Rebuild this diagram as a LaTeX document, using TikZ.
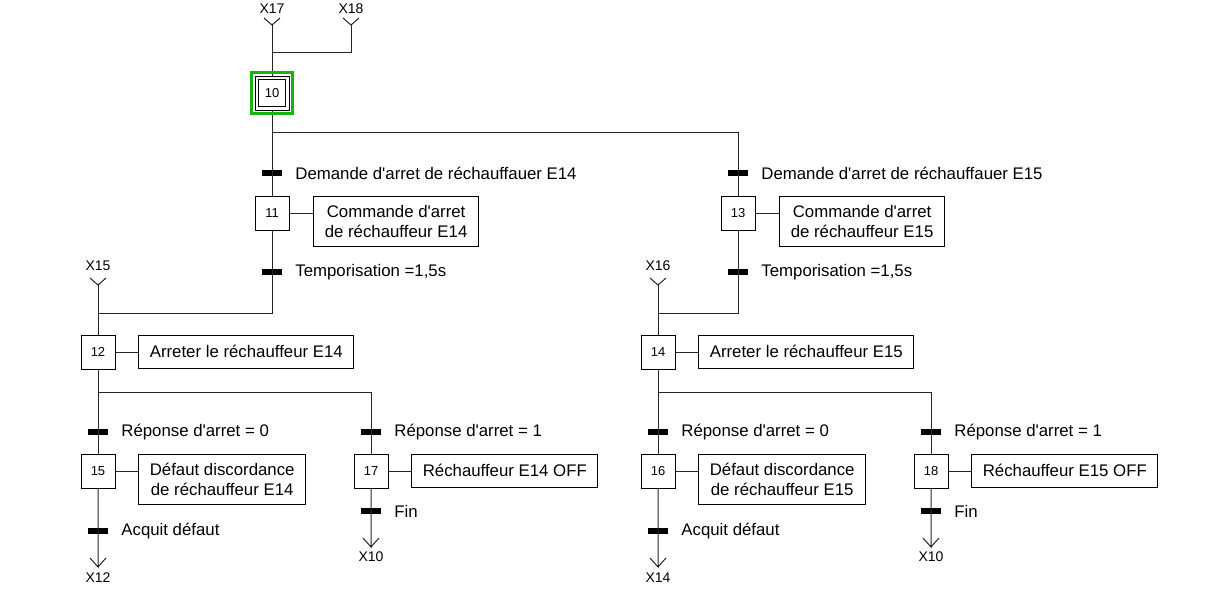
\documentclass[tikz,border=0pt]{standalone}
\usepackage{fontspec}
\setmainfont{Liberation Sans}
\usetikzlibrary{positioning}

\definecolor{vert}{RGB}{20,180,20}
\newcommand\apos{\textquotesingle}

\tikzset{
  lien/.style={line width=1pt, black!85},
  etape/.style={draw, line width=0.8pt, minimum size=34pt, inner sep=0pt, font=\fontsize{13}{15}\selectfont},
  action/.style={draw, line width=0.8pt, minimum height=33pt, inner xsep=11pt, inner ysep=5.5pt, align=center, anchor=north west, font=\fontsize{16.8}{20}\selectfont},
  action2/.style={action, minimum height=50pt},
  transition/.style={fill=black, minimum width=20pt, minimum height=6pt, inner sep=0pt},
  recep/.style={inner sep=2pt, font=\fontsize{16.8}{20}\selectfont},
  renvoi/.style={inner sep=1pt, font=\fontsize{14}{16}\selectfont}
}

\begin{document}
\begin{tikzpicture}[x=1pt, y=-1pt]
  \useasboundingbox (0,0) rectangle (1206,589);

  % renvois d'entree
  \node[renvoi] (x17) at (272,9) {X17};
  \node[renvoi] (x18) at (351,9) {X18};
  \coordinate (v17) at (272,25);
  \coordinate (v18) at (351,25);
  \coordinate (j10) at (272,52);
  \draw[lien] ([shift={(-8,-7)}]v17) -- (v17) -- ++(8,-7);
  \draw[lien] ([shift={(-8,-7)}]v18) -- (v18) -- ++(8,-7);

  % etape initiale
  \node[etape] (s10) at (272,93) {10};
  \draw[line width=0.8pt] ([shift={(4,4)}]s10.north west) rectangle ([shift={(-4,-4)}]s10.south east);
  \draw[lien] (v17) -- (s10.north);
  \draw[lien] (v18) |- (j10);

  % branche E14
  \node[transition] (t1) at (272,173) {};
  \node[recep, right=11pt of t1] {Demande d\apos arret de réchauffauer E14};
  \node[etape] (s11) at (272,213) {11};
  \node[action2] (a11) at ([xshift=24pt]s11.north east) {Commande d\apos arret\\de réchauffeur E14};
  \node[transition] (t2) at (272,272) {};
  \node[recep, right=11pt of t2] {Temporisation =1,5s};
  \coordinate (j12) at (272,313);

  \node[renvoi] (x15) at (98,266) {X15};
  \coordinate (v15) at (98,285);
  \draw[lien] ([shift={(-8,-7)}]v15) -- (v15) -- ++(8,-7);
  \node[etape] (s12) at (98,352) {12};
  \node[action] (a12) at ([xshift=23pt]s12.north east) {Arreter le réchauffeur E14};
  \coordinate (d12) at (98,392);

  \node[transition] (t5) at (98,432) {};
  \node[recep, right=11pt of t5] {Réponse d\apos arret = 0};
  \node[etape] (s15) at (98,471) {15};
  \node[action2] (a15) at ([xshift=23pt]s15.north east) {Défaut discordance\\de réchauffeur E14};
  \node[transition] (t7) at (98,531) {};
  \node[recep, right=11pt of t7] {Acquit défaut};
  \coordinate (v12) at (98,567);
  \node[renvoi] (x12) at (98,578) {X12};

  \node[transition] (t6) at (371,432) {};
  \node[recep, right=11pt of t6] {Réponse d\apos arret = 1};
  \node[etape] (s17) at (371,471) {17};
  \node[action] (a17) at ([xshift=23pt]s17.north east) {Réchauffeur E14 OFF};
  \node[transition] (t8) at (371,511) {};
  \node[recep, right=11pt of t8] {Fin};
  \coordinate (v10a) at (371,547);
  \node[renvoi] (x10a) at (371,557) {X10};

  % branche E15
  \node[transition] (t3) at (738,173) {};
  \node[recep, right=11pt of t3] {Demande d\apos arret de réchauffauer E15};
  \node[etape] (s13) at (738,213) {13};
  \node[action2] (a13) at ([xshift=24pt]s13.north east) {Commande d\apos arret\\de réchauffeur E15};
  \node[transition] (t4) at (738,272) {};
  \node[recep, right=11pt of t4] {Temporisation =1,5s};
  \coordinate (j14) at (738,313);

  \node[renvoi] (x16) at (658,266) {X16};
  \coordinate (v16) at (658,285);
  \draw[lien] ([shift={(-8,-7)}]v16) -- (v16) -- ++(8,-7);
  \node[etape] (s14) at (658,352) {14};
  \node[action] (a14) at ([xshift=23pt]s14.north east) {Arreter le réchauffeur E15};
  \coordinate (d14) at (658,392);

  \node[transition] (t9) at (658,432) {};
  \node[recep, right=11pt of t9] {Réponse d\apos arret = 0};
  \node[etape] (s16) at (658,471) {16};
  \node[action2] (a16) at ([xshift=23pt]s16.north east) {Défaut discordance\\de réchauffeur E15};
  \node[transition] (t11) at (658,531) {};
  \node[recep, right=11pt of t11] {Acquit défaut};
  \coordinate (v14) at (658,567);
  \node[renvoi] (x14) at (658,578) {X14};

  \node[transition] (t10) at (931,432) {};
  \node[recep, right=11pt of t10] {Réponse d\apos arret = 1};
  \node[etape] (s18) at (931,471) {18};
  \node[action] (a18) at ([xshift=23pt]s18.north east) {Réchauffeur E15 OFF};
  \node[transition] (t12) at (931,511) {};
  \node[recep, right=11pt of t12] {Fin};
  \coordinate (v10b) at (931,547);
  \node[renvoi] (x10b) at (931,557) {X10};

  % liaisons
  \draw[lien] (s10.south) |- (738,132) -- (s13.north);
  \draw[lien] (s10.south) -- (s11.north);
  \draw[lien] (s11.south) -- (j12) -| (v15);
  \draw[lien] (v15) -- (s12.north);
  \draw[lien] (s13.south) -- (j14) -| (v16);
  \draw[lien] (v16) -- (s14.north);
  \draw[lien] (s12.south) -- (d12) -| (s17.north);
  \draw[lien] (d12) -- (s15.north);
  \draw[lien] (s14.south) -- (d14) -| (s18.north);
  \draw[lien] (d14) -- (s16.north);
  \foreach \a/\b in {s15/v12, s17/v10a, s16/v14, s18/v10b}
    \draw[lien] (\a.south) -- (\b) -- ++(-8,-9) (\b) -- ++(8,-9);
  \foreach \s in {11,12,13,14,15,16,17,18}
    \draw[lien] (s\s.east) -- (a\s.west |- s\s.east);

  % etape active
  \draw[vert, line width=3pt] ([shift={(-3,-3)}]s10.north west) rectangle ([shift={(3,3)}]s10.south east);
\end{tikzpicture}
\end{document}
